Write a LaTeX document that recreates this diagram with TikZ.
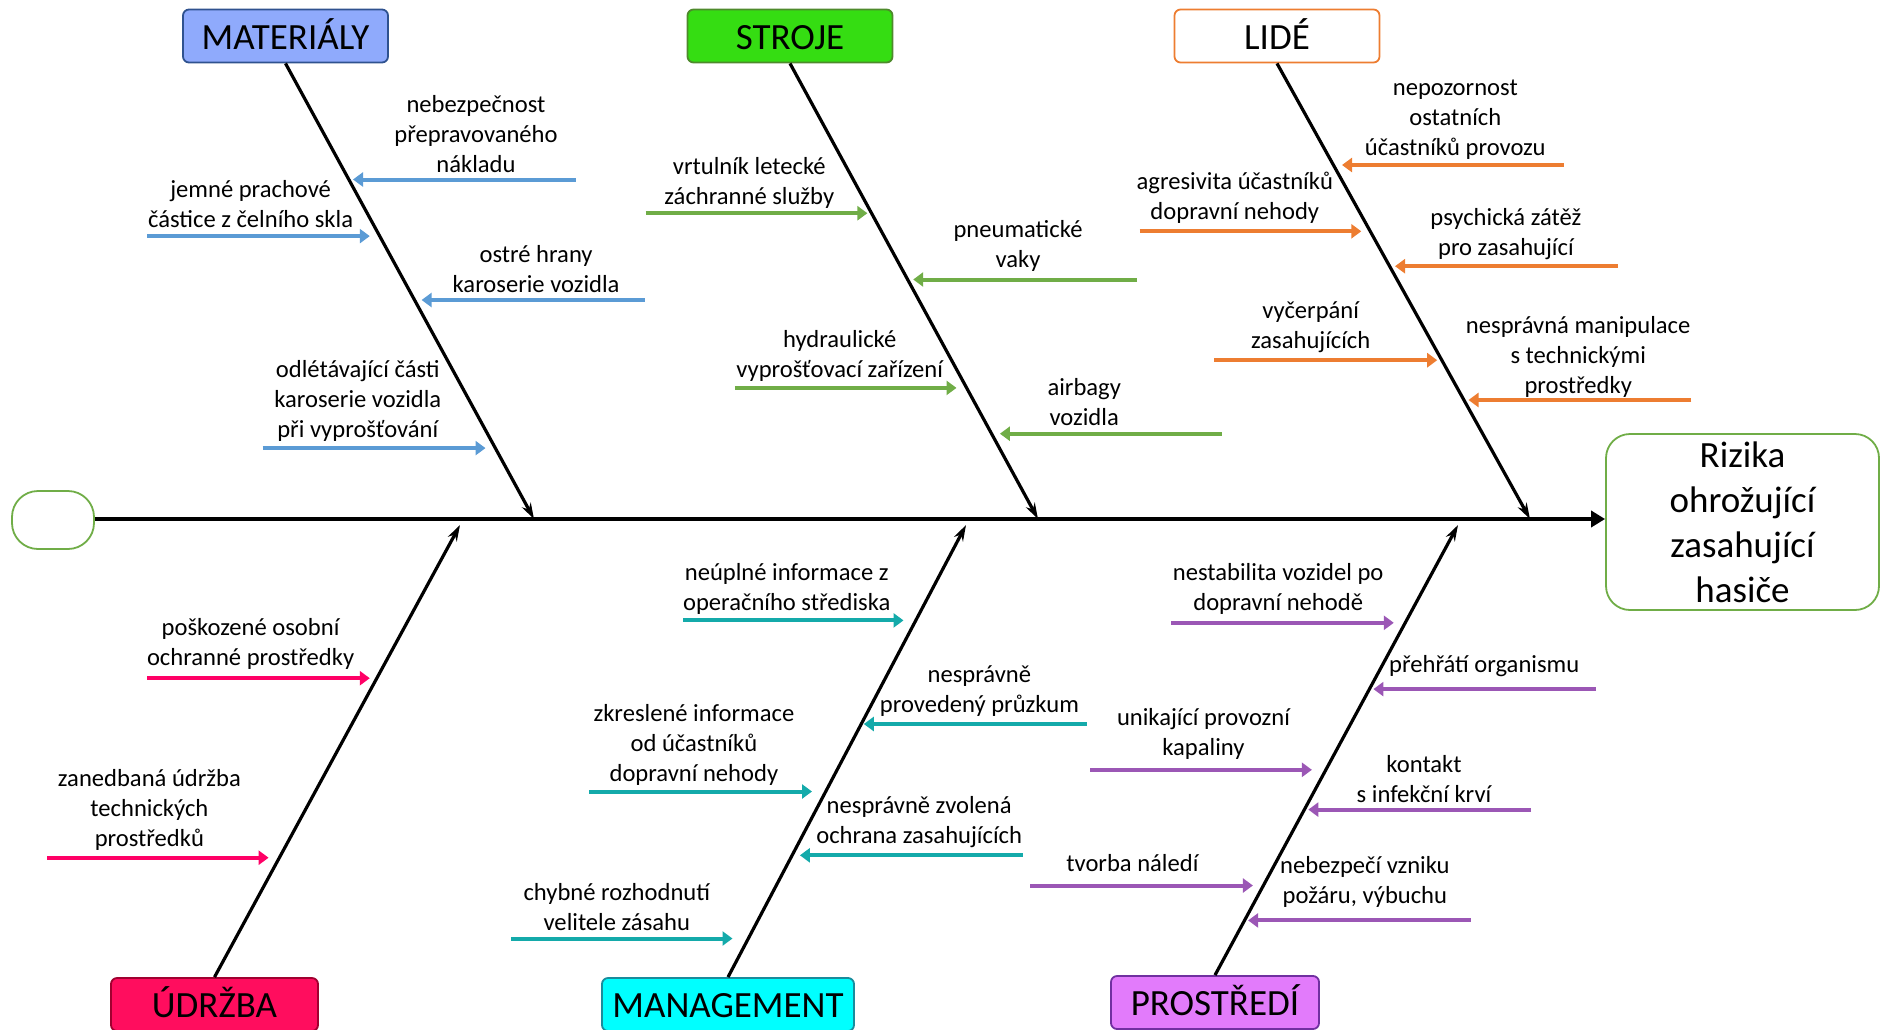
\documentclass[tikz,border=0pt]{standalone}
\usepackage{fontspec}
\setmainfont{Carlito}
\usepackage{tikz}
\usepackage{xcolor}
\usetikzlibrary{arrows.meta}

\definecolor{matfill}{HTML}{8FAAFC}
\definecolor{matline}{HTML}{2F528F}
\definecolor{strfill}{HTML}{35DD12}
\definecolor{strline}{HTML}{4E8A2C}
\definecolor{orange}{HTML}{ED7D31}
\definecolor{udrfill}{HTML}{FF0D5E}
\definecolor{udrline}{HTML}{A00030}
\definecolor{manfill}{HTML}{00FFFF}
\definecolor{manline}{HTML}{1A8C9C}
\definecolor{profill}{HTML}{E27BFB}
\definecolor{proline}{HTML}{7030A0}
\definecolor{leaf}{HTML}{70AD47}
\definecolor{matarr}{HTML}{5B9BD5}
\definecolor{udrarr}{HTML}{FF0066}
\definecolor{manarr}{HTML}{14AAAA}
\definecolor{proarr}{HTML}{9B57B5}

\begin{document}
\begin{tikzpicture}[x=0.5pt,y=-0.5pt,
        category/.style={draw,rounded corners=3pt,line width=0.9pt,minimum height=26.5pt,text height=13pt,text depth=0pt,font=\fontsize{18.5}{22}\selectfont},
        cause/.style={align=center,inner sep=0pt,font=\fontsize{12.3}{15}\selectfont},
        bone/.style={line width=1.6pt,-{Stealth[length=8pt,width=5pt]}},
        twig/.style={line width=2pt,-{Triangle[length=5pt,width=7pt]}}]
    \useasboundingbox (0,0) rectangle (1889,1029);

    \node[category,fill=matfill,draw=matline,minimum width=102.5pt] (mat) at (285.5,36) {MATERIÁLY};
    \node[category,fill=strfill,draw=strline,minimum width=102.5pt] (str) at (790,36) {STROJE};
    \node[category,fill=white,draw=orange,minimum width=102.5pt] (lid) at (1277,36) {LIDÉ};
    \node[category,fill=udrfill,draw=udrline,minimum width=103.5pt] (udr) at (214.5,1004.5) {ÚDRŽBA};
    \node[category,fill=manfill,draw=manline,minimum width=126pt] (man) at (728,1004.5) {MANAGEMENT};
    \node[category,fill=profill,draw=proline,minimum width=104pt] (pro) at (1215,1002.5) {PROSTŘEDÍ};

    \node[draw=leaf,rounded corners=12pt,line width=0.9pt,minimum width=136.5pt,minimum height=88pt,
        align=center,font=\fontsize{18.5}{22.5}\selectfont] (riz) at (1742.5,522) {Rizika\\ohrožující\\zasahující\\hasiče};
    \node[draw=leaf,rounded corners=13pt,line width=0.9pt,minimum width=41pt,minimum height=29pt] (tail) at (53,520) {};

    \draw[line width=2pt,-{Triangle[length=7pt,width=8pt]}] (tail.east |- 0,519) -- (riz.west |- 0,519);

    \coordinate (matend) at (534,519);
    \coordinate (strend) at (1038,519);
    \coordinate (lidend) at (1530,519);
    \coordinate (udrend) at (460,525);
    \coordinate (manend) at (966,525);
    \coordinate (proend) at (1458,525);
    \draw[bone] (mat.south) -- (matend);
    \draw[bone] (str.south) -- (strend);
    \draw[bone] (lid.south) -- (lidend);
    \draw[bone] (udr.north) -- (udrend);
    \draw[bone] (man.north) -- (manend);
    \draw[bone] (pro.north) -- (proend);

    \node[cause] (m1) at (476,133.7) {nebezpečnost\\přepravovaného\\nákladu};
    \node[cause] (m2) at (250.6,204.2) {jemné prachové\\částice z čelního skla};
    \node[cause] (m3) at (536.1,269.2) {ostré hrany\\karoserie vozidla};
    \node[cause] (m4) at (357.8,401.2) {odlétávající části\\karoserie vozidla\\při vyprošťování};
    \coordinate (m1s) at (575.8,179.5);
    \coordinate (m1e) at (353,179.5);
    \coordinate (m2s) at (147,236.1);
    \coordinate (m2e) at (369.8,236.1);
    \coordinate (m3s) at (644.5,300);
    \coordinate (m3e) at (421.6,300);
    \coordinate (m4s) at (262.6,448.1);
    \coordinate (m4e) at (485.5,448.1);
    \draw[twig,matarr] (m1s) -- (m1e);
    \draw[twig,matarr] (m2s) -- (m2e);
    \draw[twig,matarr] (m3s) -- (m3e);
    \draw[twig,matarr] (m4s) -- (m4e);

    \node[cause] (s1) at (749.3,183.1) {vrtulník letecké\\záchranné služby};
    \node[cause] (s2) at (1018,245.8) {pneumatické\\vaky};
    \node[cause] (s3) at (839.7,356) {hydraulické\\vyprošťovací zařízení};
    \node[cause] (s4) at (1084.2,401.8) {airbagy\\vozidla};
    \coordinate (s1s) at (645.7,213.2);
    \coordinate (s1e) at (867.4,213.2);
    \coordinate (s2s) at (1137.2,279.5);
    \coordinate (s2e) at (913.2,279.5);
    \coordinate (s3s) at (734.9,387.9);
    \coordinate (s3e) at (956.5,387.9);
    \coordinate (s4s) at (1221.6,433.7);
    \coordinate (s4e) at (999.9,433.7);
    \draw[twig,leaf] (s1s) -- (s1e);
    \draw[twig,leaf] (s2s) -- (s2e);
    \draw[twig,leaf] (s3s) -- (s3e);
    \draw[twig,leaf] (s4s) -- (s4e);

    \node[cause] (l1) at (1455.3,119.3) {nepozornost\\ostatních\\účastníků provozu};
    \node[cause] (l2) at (1234.8,198.2) {agresivita účastníků\\dopravní nehody};
    \node[cause] (l3) at (1505.9,233.7) {psychická zátěž\\pro zasahující};
    \node[cause] (l4) at (1310.7,327.1) {vyčerpání\\zasahujících};
    \node[cause] (l5) at (1578.2,356.6) {nesprávná manipulace\\s technickými\\prostředky};
    \coordinate (l1s) at (1563.7,165);
    \coordinate (l1e) at (1342,165);
    \coordinate (l2s) at (1139.6,231.3);
    \coordinate (l2e) at (1361.3,231.3);
    \coordinate (l3s) at (1617.9,266.2);
    \coordinate (l3e) at (1395,266.2);
    \coordinate (l4s) at (1214.3,360.2);
    \coordinate (l4e) at (1437.2,360.2);
    \coordinate (l5s) at (1691.4,400);
    \coordinate (l5e) at (1468.5,400);
    \draw[twig,orange] (l1s) -- (l1e);
    \draw[twig,orange] (l2s) -- (l2e);
    \draw[twig,orange] (l3s) -- (l3e);
    \draw[twig,orange] (l4s) -- (l4e);
    \draw[twig,orange] (l5s) -- (l5e);

    \node[cause] (u1) at (250.6,643.9) {poškozené osobní\\ochranné prostředky};
    \node[cause] (u2) at (149.4,809.6) {zanedbaná údržba\\technických\\prostředků};
    \coordinate (u1s) at (147,678.2);
    \coordinate (u1e) at (369.8,678.2);
    \coordinate (u2s) at (47,857.7);
    \coordinate (u2e) at (268.6,857.7);
    \draw[twig,udrarr] (u1s) -- (u1e);
    \draw[twig,udrarr] (u2s) -- (u2e);

    \node[cause] (g1) at (786.7,588.5) {neúplné informace z\\operačního střediska};
    \node[cause] (g2) at (979.4,690.9) {nesprávně\\provedený průzkum};
    \node[cause] (g3) at (693.9,744.5) {zkreslené informace\\od účastníků\\dopravní nehody};
    \node[cause] (g4) at (919.2,821.6) {nesprávně zvolená\\ochrana zasahujících};
    \node[cause] (g5) at (616.8,907.1) {chybné rozhodnutí\\velitele zásahu};
    \coordinate (g1s) at (683,620.4);
    \coordinate (g1e) at (903.5,620.4);
    \coordinate (g2s) at (1086.6,724);
    \coordinate (g2e) at (863.8,724);
    \coordinate (g3s) at (589.1,791.5);
    \coordinate (g3e) at (812,791.5);
    \coordinate (g4s) at (1022.8,855.3);
    \coordinate (g4e) at (799.9,855.3);
    \coordinate (g5s) at (510.8,938.5);
    \coordinate (g5e) at (732.5,938.5);
    \draw[twig,manarr] (g1s) -- (g1e);
    \draw[twig,manarr] (g2s) -- (g2e);
    \draw[twig,manarr] (g3s) -- (g3e);
    \draw[twig,manarr] (g4s) -- (g4e);
    \draw[twig,manarr] (g5s) -- (g5e);

    \node[cause] (p1) at (1278.2,588.5) {nestabilita vozidel po\\dopravní nehodě};
    \node[cause] (p2) at (1484.2,666.2) {přehřátí organismu};
    \node[cause] (p3) at (1203.5,734.3) {unikající provozní\\kapaliny};
    \node[cause] (p4) at (1424,779.4) {kontakt\\s infekční krví};
    \node[cause] (p5) at (1132.4,862.6) {tvorba náledí};
    \node[cause] (p6) at (1364.9,881.8) {nebezpečí vzniku\\požáru, výbuchu};
    \coordinate (p1s) at (1171,622.8);
    \coordinate (p1e) at (1393.8,622.8);
    \coordinate (p2s) at (1596.2,689.1);
    \coordinate (p2e) at (1373.4,689.1);
    \coordinate (p3s) at (1090.3,769.8);
    \coordinate (p3e) at (1311.9,769.8);
    \coordinate (p4s) at (1531.2,809.6);
    \coordinate (p4e) at (1308.3,809.6);
    \coordinate (p5s) at (1030,885.5);
    \coordinate (p5e) at (1252.9,885.5);
    \coordinate (p6s) at (1470.9,920.4);
    \coordinate (p6e) at (1248.1,920.4);
    \draw[twig,proarr] (p1s) -- (p1e);
    \draw[twig,proarr] (p2s) -- (p2e);
    \draw[twig,proarr] (p3s) -- (p3e);
    \draw[twig,proarr] (p4s) -- (p4e);
    \draw[twig,proarr] (p5s) -- (p5e);
    \draw[twig,proarr] (p6s) -- (p6e);
\end{tikzpicture}
\end{document}
